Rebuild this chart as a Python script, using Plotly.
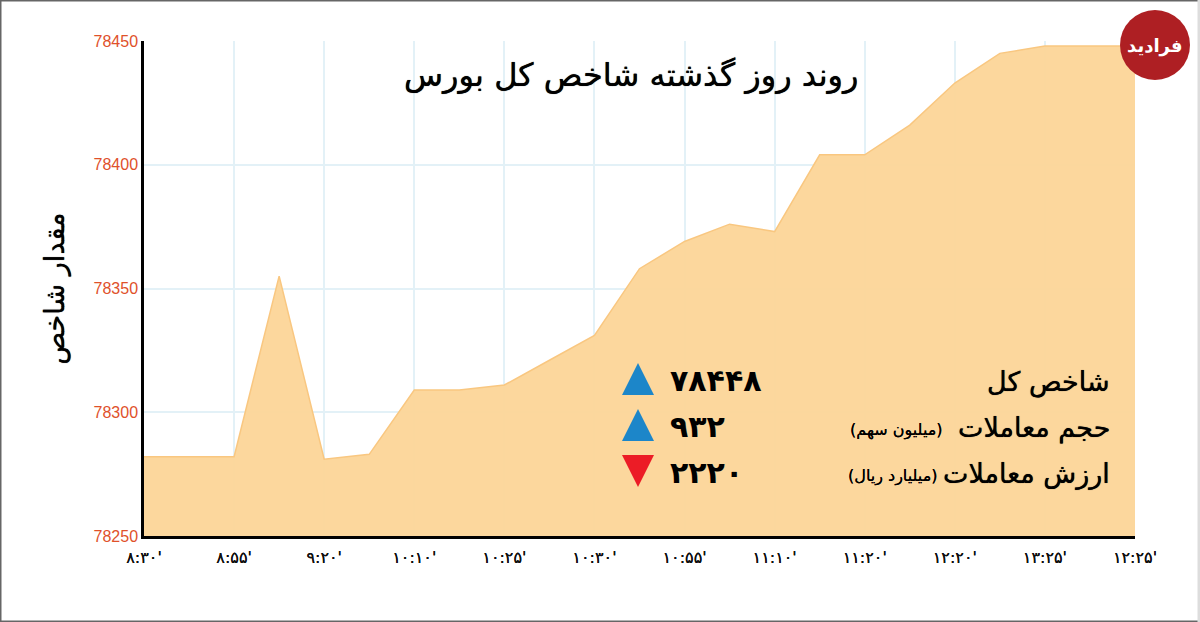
import plotly.graph_objects as go

# index value, one reading every half tick slot
points = list(range(23))
index_values = [78282, 78282, 78282, 78355, 78281, 78283, 78309, 78309, 78311, 78321, 78331, 78358,
                78369, 78376, 78373, 78404, 78404, 78416, 78433, 78445, 78448, 78448, 78448]
tick_points = points[::2]
tick_labels = ["۸:۳۰'", "۸:۵۵'", "۹:۲۰'", "۱۰:۱۰'", "۱۰:۲۵'", "۱۰:۳۰'",
               "۱۰:۵۵'", "۱۱:۱۰'", "۱۱:۲۰'", "۱۲:۲۰'", "۱۳:۲۵'", "۱۲:۲۵'"]
y_ticks = [78250, 78300, 78350, 78400, 78450]
y_grid = [78300, 78350, 78400]

title = "روند روز گذشته شاخص کل بورس"
y_title = "مقدار شاخص"
summary_names = ["شاخص کل", "حجم معاملات", "ارزش معاملات"]
summary_units = ["", "(میلیون سهم)", "(میلیارد ریال)"]
summary_numbers = ["۷۸۴۴۸", "۹۳۲", "۲۲۲۰"]
summary_up = [True, True, False]

W, H = 1200, 622
FONT = "DejaVu Sans"
HEAVY = "0 0 0.7px black"
GRID = "#E3F1F7"


def px(x):
    return x / W


def py(y):
    return 1 - y / H


def label(x, y, text, size, anchor="center", color="black", bold=False, shadow="none"):
    fig.add_annotation(x=px(x), y=py(y), xref="paper", yref="paper", text=f"<b>{text}</b>" if bold else text,
                       showarrow=False, xanchor=anchor, yanchor="middle",
                       font=dict(family=FONT, size=size, color=color, shadow=shadow))


fig = go.Figure()
fig.add_trace(go.Scatter(x=points, y=index_values, mode="lines", fill="tozeroy",
                         fillcolor="rgba(252,213,152,0.95)",
                         line=dict(color="#F9C780", width=1.5), hoverinfo="skip"))

fig.update_layout(
    width=W, height=H, showlegend=False, plot_bgcolor="white", paper_bgcolor="white",
    margin=dict(l=0, r=0, t=0, b=0, pad=0, autoexpand=False),
    font=dict(family=FONT),
    xaxis=dict(domain=[px(144), px(1135)], range=[0, 22], tickvals=tick_points, ticktext=tick_labels,
               automargin=False, showgrid=True, gridcolor=GRID, gridwidth=1.5, zeroline=False,
               showline=True, linecolor="black", linewidth=2.5, ticks="",
               tickfont=dict(family=FONT, size=16, color="#111", shadow="0 0 0.5px black"), ticklabelstandoff=5),
    yaxis=dict(domain=[py(536), py(41)], range=[78250, 78450], tickvals=y_ticks, tickformat="d",
               automargin=False, showgrid=False, zeroline=False, showline=True, linecolor="black", linewidth=2.5,
               ticks="", tickfont=dict(family="Liberation Sans", size=16, color="#E0512A"), ticklabelstandoff=0,
               minor=dict(tickvals=y_grid, showgrid=True, gridcolor=GRID, gridwidth=1.5, ticks=""),
               title=dict(text=y_title, font=dict(family=FONT, size=27, color="black", shadow=HEAVY), standoff=22)),
)

label(631, 75, title, 32, shadow=HEAVY)

rows_y = [382, 428, 474]
unit_right = [None, 945, 940]
for name, unit, number, up, y, right in zip(summary_names, summary_units, summary_numbers, summary_up, rows_y, unit_right):
    label(1112, y, name, 27, anchor="right", shadow=HEAVY)
    if unit:
        label(right, y + 2, unit, 16, anchor="right", shadow="0 0 0.4px black")
    label(668, y - 2, number, 30, anchor="left", bold=True)
    top, bottom = y - 19, y + 13
    if up:
        path = f"M{px(622)},{py(bottom)} L{px(638)},{py(top)} L{px(654)},{py(bottom)} Z"
    else:
        path = f"M{px(622)},{py(top)} L{px(654)},{py(top)} L{px(638)},{py(bottom)} Z"
    fig.add_shape(type="path", path=path, xref="paper", yref="paper", line_width=0,
                  fillcolor="#1C86C9" if up else "#EC1C26")

# logo
fig.add_shape(type="circle", xref="paper", yref="paper", x0=px(1120), x1=px(1190), y0=py(80), y1=py(10),
              fillcolor="#AE1F23", line_width=0)
label(1155, 46, "فرادید", 18, color="white", bold=True)

# image frame
for x0, y0, x1, y1, color in [(0, 0, 1200, 0, "#666"), (0, 0, 0, 622, "#666"), (0, 622, 1200, 622, "#666"),
                              (1199, 0, 1199, 622, "#DDD")]:
    fig.add_shape(type="line", xref="paper", yref="paper", x0=px(x0), x1=px(x1), y0=py(y0), y1=py(y1),
                  line=dict(color=color, width=3))

fig.write_html("out.html", config=dict(displayModeBar=False),
               post_script="document.body.style.margin = '0'; document.body.style.overflow = 'hidden';")
